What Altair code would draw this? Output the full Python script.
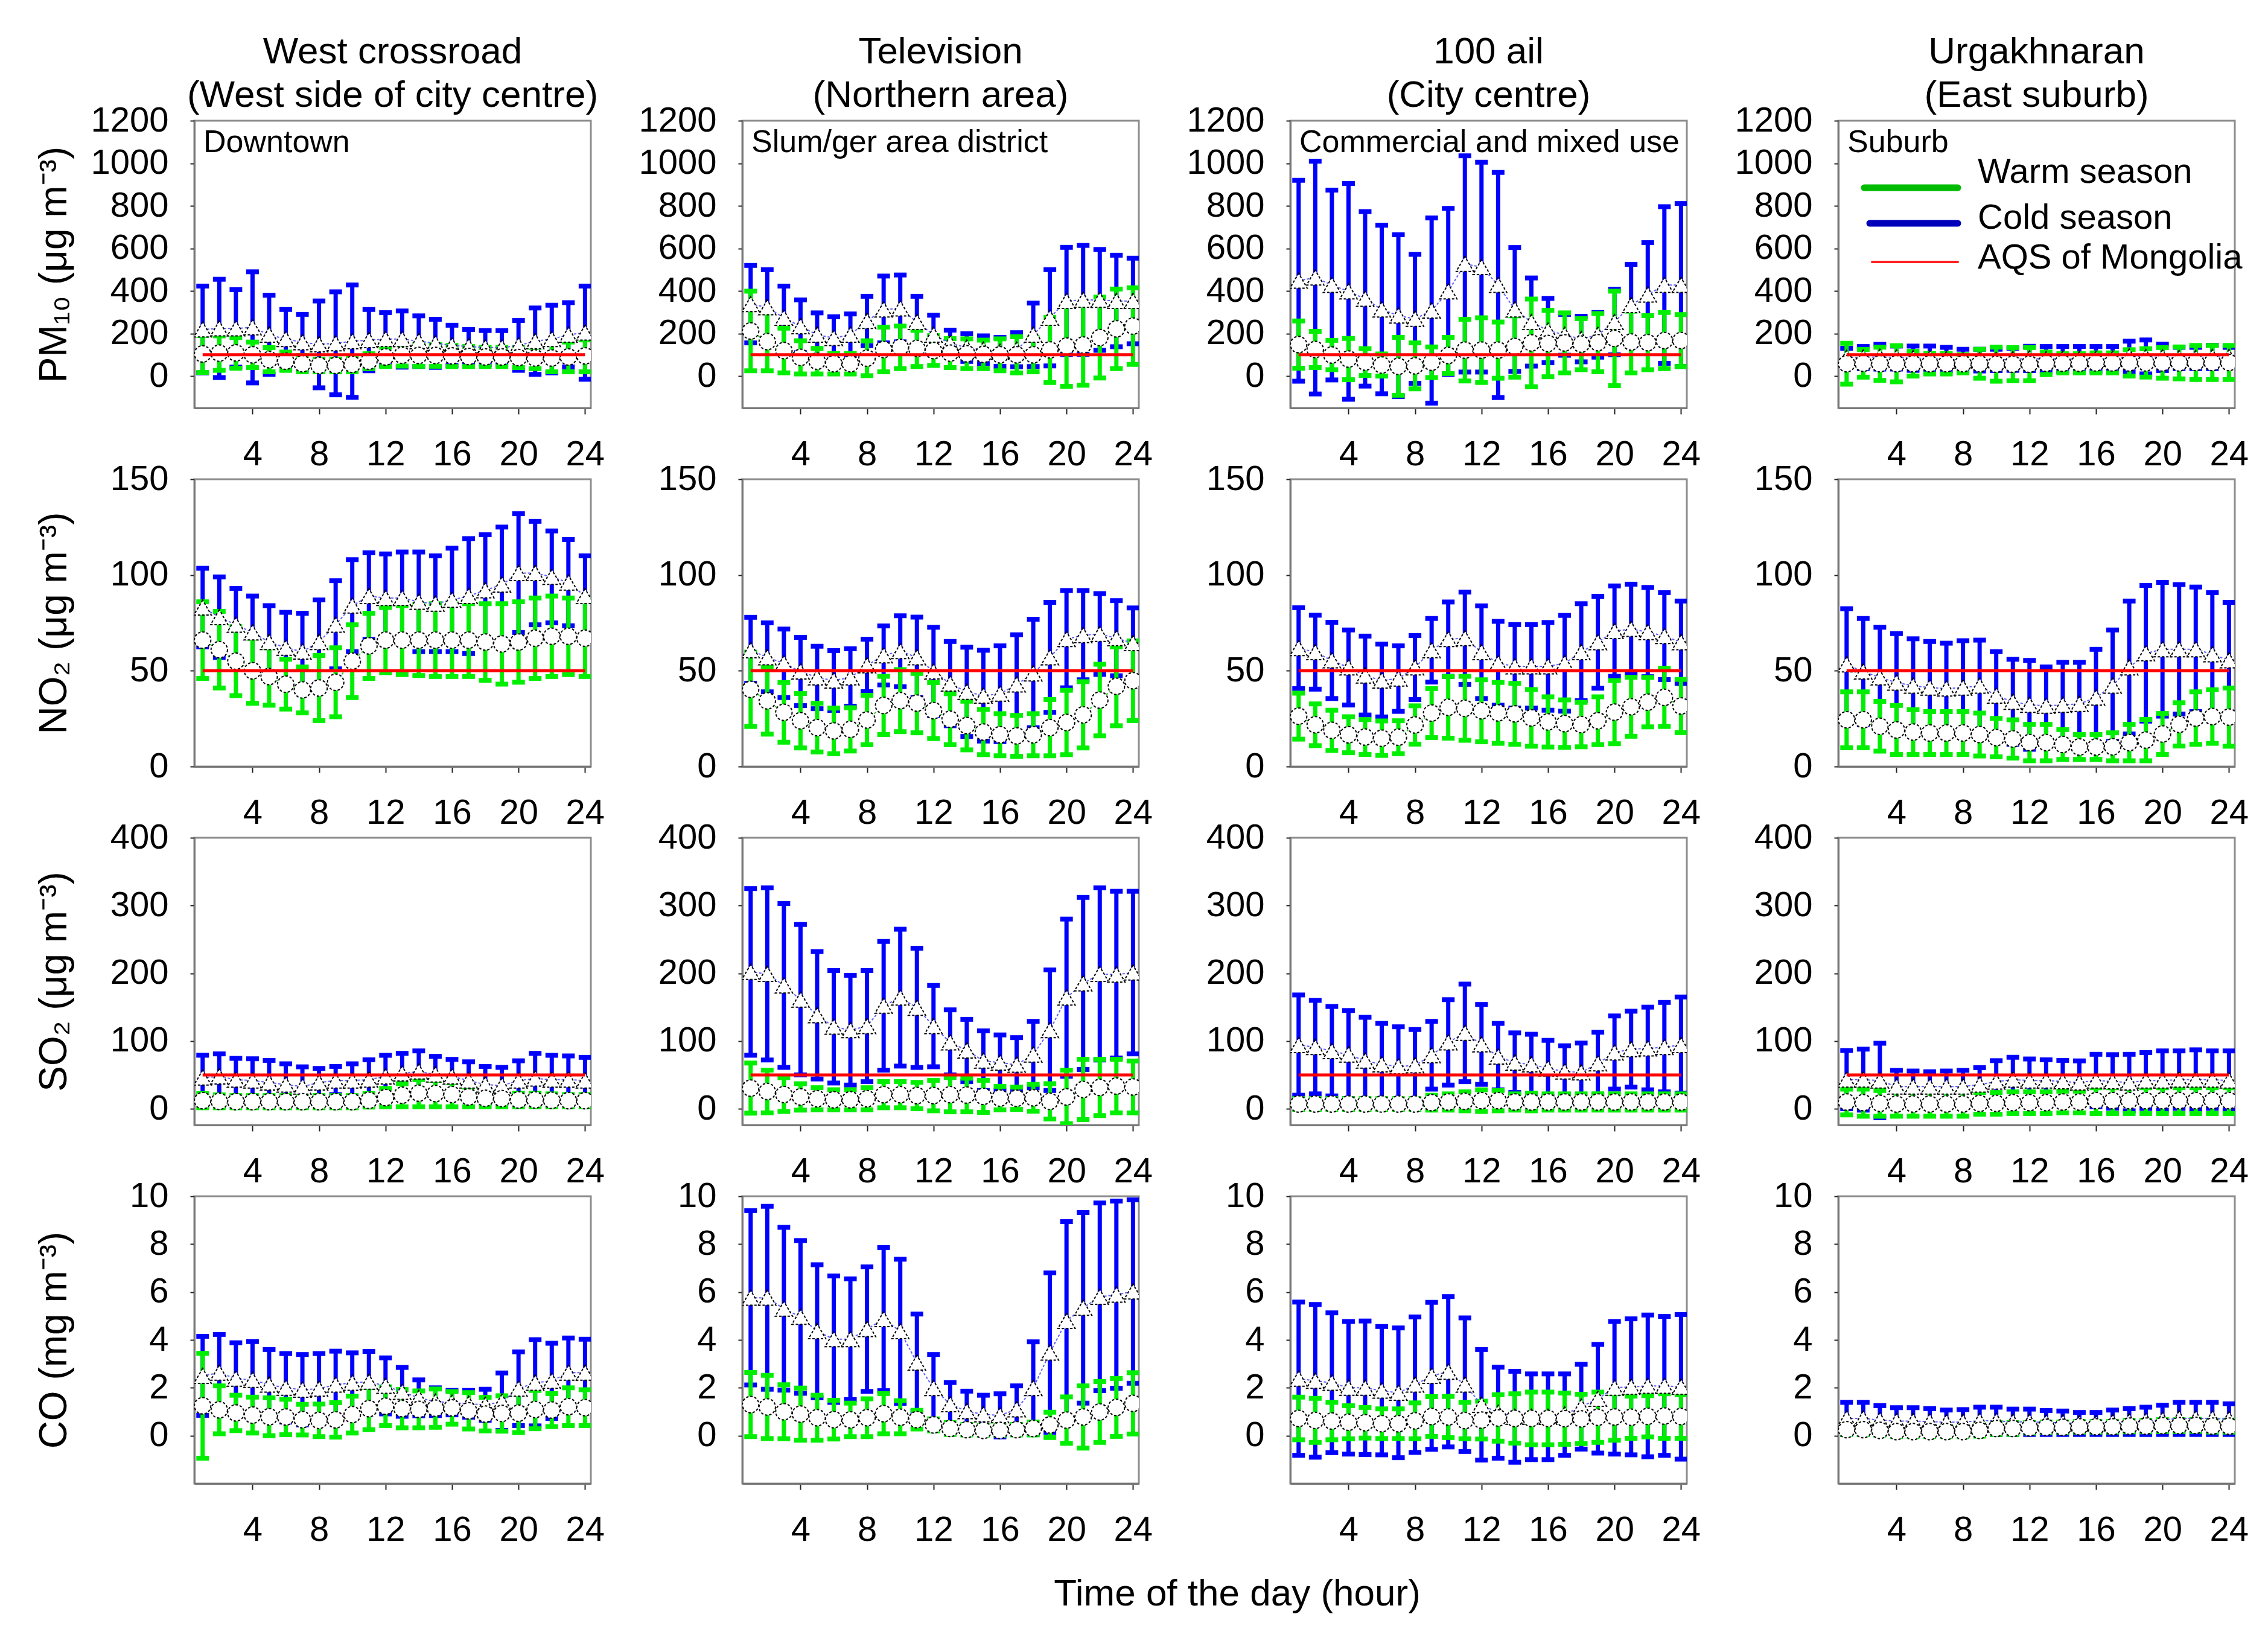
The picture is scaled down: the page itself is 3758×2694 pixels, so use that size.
import altair as alt
import pandas as pd

FONT = "Liberation Sans"
HOURS = list(range(1, 25))
X_TICKS = [4, 8, 12, 16, 20, 24]

STATION_TITLES = [
    ["West crossroad", "(West side of city centre)"],
    ["Television", "(Northern area)"],
    ["100 ail", "(City centre)"],
    ["Urgakhnaran", "(East suburb)"],
]
STATION_LABELS = ["Downtown", "Slum/ger area district", "Commercial and mixed use", "Suburb"]
POLLUTANTS = ["PM10", "NO2", "SO2", "CO"]
Y_TITLES = ["PM\u2081\u2080 (\u03bcg m\u207b\u00b3)", "NO\u2082 (\u03bcg m\u207b\u00b3)",
            "SO\u2082 (\u03bcg m\u207b\u00b3)", "CO (mg m\u207b\u00b3)"]
Y_DOMAINS = [[-150, 1200], [0, 150], [-24, 400], [-2, 10]]
Y_TICKS = [[0, 200, 400, 600, 800, 1000, 1200], [0, 50, 100, 150],
           [0, 100, 200, 300, 400], [0, 2, 4, 6, 8, 10]]
AQS_LIMITS = [100, 50, 50, None]
LEGEND_LABELS = ["Warm season", "Cold season", "AQS of Mongolia"]
X_TITLE = "Time of the day (hour)"

# ---------------- PM10 ----------------
PM10_WEST_COLD_MEAN = [219, 224, 224, 229, 194, 174, 159, 149, 154, 164, 169, 174, 174, 164, 154, 144, 139, 134, 134, 144, 164, 174, 194, 204]
PM10_WEST_COLD_SD = [204, 231, 182, 261, 186, 139, 131, 204, 242, 264, 144, 124, 132, 119, 113, 95, 80, 80, 80, 117, 156, 159, 151, 219]
PM10_WEST_WARM_MEAN = [104, 108, 109, 100, 77, 70, 58, 50, 50, 55, 70, 90, 98, 97, 97, 95, 92, 90, 90, 87, 85, 85, 90, 95]
PM10_WEST_WARM_SD = [87, 81, 72, 60, 57, 43, 38, 30, 30, 35, 35, 45, 51, 51, 51, 50, 47, 45, 45, 47, 50, 65, 70, 75]

PM10_TV_COLD_MEAN = [338, 323, 274, 234, 194, 179, 194, 259, 313, 318, 254, 194, 154, 134, 124, 114, 124, 194, 274, 353, 358, 358, 353, 353]
PM10_TV_COLD_SD = [182, 177, 149, 124, 103, 100, 98, 116, 157, 157, 121, 92, 62, 65, 65, 68, 80, 149, 226, 252, 256, 237, 215, 201]
PM10_TV_WARM_MEAN = [212, 162, 120, 88, 70, 58, 58, 84, 125, 135, 130, 120, 108, 105, 102, 100, 100, 100, 123, 141, 146, 181, 222, 235]
PM10_TV_WARM_SD = [187, 137, 105, 78, 60, 48, 48, 82, 105, 100, 85, 70, 68, 70, 67, 75, 85, 80, 153, 189, 189, 190, 187, 180]

PM10_AIL_COLD_MEAN = [448, 463, 428, 398, 363, 313, 284, 269, 308, 398, 527, 512, 428, 313, 254, 214, 194, 174, 194, 254, 333, 383, 428, 428]
PM10_AIL_COLD_SD = [472, 547, 446, 507, 410, 396, 380, 303, 435, 390, 508, 493, 529, 291, 207, 151, 96, 107, 105, 154, 192, 244, 368, 383]
PM10_AIL_WARM_MEAN = [148, 125, 99, 80, 66, 52, 46, 48, 65, 97, 122, 122, 122, 139, 156, 153, 156, 150, 157, 177, 160, 157, 167, 167]
PM10_AIL_WARM_SD = [111, 85, 69, 97, 63, 52, 136, 108, 72, 85, 145, 152, 132, 144, 206, 156, 141, 120, 137, 222, 145, 127, 132, 122]

PM10_SUB_COLD_MEAN = [86, 87, 91, 87, 84, 83, 80, 73, 75, 76, 79, 83, 80, 81, 80, 81, 81, 92, 90, 88, 85, 85, 90, 90]
PM10_SUB_COLD_SD = [45, 52, 58, 54, 57, 58, 55, 53, 51, 50, 52, 57, 59, 58, 59, 58, 58, 72, 80, 62, 50, 50, 55, 45]
PM10_SUB_WARM_MEAN = [58, 60, 58, 58, 58, 58, 58, 58, 58, 56, 56, 56, 60, 60, 60, 62, 62, 62, 62, 62, 62, 64, 64, 64]
PM10_SUB_WARM_SD = [96, 65, 78, 85, 58, 48, 48, 43, 68, 80, 78, 78, 53, 45, 45, 47, 47, 62, 67, 72, 75, 80, 80, 80]

# ---------------- NO2 ----------------
NO2_WEST_COLD_MEAN = [83, 78, 74, 70, 65, 62, 60, 65, 74, 84, 89, 88, 88, 86, 85, 87, 89, 92, 95, 101, 101, 99, 96, 89]
NO2_WEST_COLD_SD = [20.5, 21, 19, 19, 19, 18.5, 20, 22, 23, 24, 22.6, 23, 24, 26, 25, 27, 30, 29, 30, 31, 27, 24, 22.5, 21]
NO2_WEST_WARM_MEAN = [66, 61, 55, 50, 47, 43, 40, 41, 44, 55, 63, 66, 66, 66, 66, 66, 66, 65, 64, 65, 67, 68, 68, 67]
NO2_WEST_WARM_SD = [20, 20, 18, 17, 15, 13, 12, 17, 18, 19, 17, 17, 18, 18.5, 19, 19, 19, 20, 21, 21, 21, 21, 20, 20]

NO2_TV_COLD_MEAN = [60.7, 57, 53.9, 49.6, 46.5, 44.9, 46.5, 52.8, 58, 60.2, 57, 49.6, 43.3, 39, 37, 38, 42.8, 48.6, 57, 66.5, 68.6, 69.2, 67, 64.4]
NO2_TV_COLD_SD = [17.2, 18, 17.9, 17.8, 16.3, 15.6, 15, 13.7, 15.4, 18.5, 21, 23.1, 22, 23.3, 23.7, 25, 26, 28.3, 28.7, 25.4, 23.3, 21.1, 19.6, 18.4]
NO2_TV_WARM_MEAN = [40.3, 34.3, 28.3, 23.9, 20.3, 18.6, 19.4, 24.3, 31.9, 34.4, 33.1, 29.2, 24.7, 21.4, 18, 16.6, 16, 16.6, 20.3, 23, 27, 34.7, 41.9, 44.8]
NO2_TV_WARM_SD = [19.4, 17.4, 15.6, 14.2, 12.7, 11.9, 11.3, 12.9, 15.2, 16.2, 15.5, 14.6, 13.3, 12.7, 11.8, 11, 10.7, 11, 14.7, 16.8, 17.3, 18.7, 20.6, 20.8]

NO2_AIL_COLD_MEAN = [61.8, 59.7, 55.4, 51.7, 47.5, 44.9, 45.9, 51.7, 60.7, 66.5, 67, 59.7, 53.9, 52.3, 52.3, 52.3, 53.9, 59.7, 64.9, 70.7, 71.8, 70.2, 68.1, 64.9]
NO2_AIL_COLD_SD = [21.1, 19.3, 19.9, 19.6, 20.6, 19, 17.1, 16.7, 16.6, 19.4, 24.1, 24.2, 21.9, 21.8, 21.8, 22.9, 25, 25.3, 24, 23.6, 23.4, 23.3, 22.7, 21.5]
NO2_AIL_WARM_MEAN = [26.3, 21.8, 18.9, 16.6, 15.4, 14.8, 15.3, 21.7, 27.9, 30.9, 30.4, 29.1, 28, 27.5, 25.4, 23.3, 22.4, 21.9, 23.9, 28.4, 31.2, 33.6, 36.1, 31.6]
NO2_AIL_WARM_SD = [12, 10.9, 10.5, 9.4, 9.1, 9, 8.6, 10, 12.8, 16.1, 16.7, 16.2, 15.9, 15.9, 14.8, 13.1, 12.4, 11.6, 12.5, 16.5, 15.4, 12.9, 15.2, 13.9]

NO2_SUB_COLD_MEAN = [53.3, 49.6, 46.5, 43.8, 42.2, 41.2, 40.7, 41.2, 42.2, 37, 33.8, 32.2, 31.7, 32.2, 32.7, 36, 42.2, 51.7, 59.1, 61.2, 61.2, 61.2, 58.6, 55.4]
NO2_SUB_COLD_SD = [29.1, 27.7, 26.2, 25.6, 24.5, 24.1, 23.7, 24.5, 23.8, 23, 22.2, 23.2, 20.3, 22.2, 21.7, 25.2, 29.1, 34.7, 35.4, 34.9, 33.8, 32.5, 32.2, 30.3]
NO2_SUB_WARM_MEAN = [24.4, 24.4, 21, 19.1, 18, 17.5, 17.5, 17.5, 16.7, 15.1, 14.4, 12.5, 12.5, 11.5, 10.2, 10.2, 10.3, 12.5, 13.8, 17, 22, 25.3, 26.1, 25.8]
NO2_SUB_WARM_SD = [14.6, 14.6, 13, 12.8, 11.7, 11.2, 11.2, 11.2, 11.2, 10, 10, 9.5, 9.5, 7.8, 6.5, 6.5, 7.3, 9.5, 10.8, 10.7, 11.3, 13.7, 14, 15.2]

# ---------------- SO2 ----------------
SO2_WEST_COLD_MEAN = [46, 47.6, 43, 41.7, 38.7, 35.7, 32.7, 38.7, 41.7, 41.7, 43, 47.6, 52, 55, 50.6, 47.6, 41.7, 35.7, 34.2, 41.7, 44.6, 43, 43, 41.7]
SO2_WEST_COLD_SD = [33, 33.4, 31.4, 32.1, 32.7, 30.7, 29.2, 20.8, 20.8, 24.7, 29.3, 31.3, 29.8, 30.4, 26.8, 25.3, 27.6, 26.8, 26.8, 29.1, 37.2, 35.9, 35, 34.2]
SO2_WEST_WARM_MEAN = [12, 11, 10.5, 10.5, 10.5, 10.5, 10.5, 10.5, 10.5, 10.5, 12.5, 16.5, 20, 23, 22.5, 21, 17.5, 15.5, 15, 13, 13, 12.5, 12, 12]
SO2_WEST_WARM_SD = [10.5, 9.5, 9, 9, 9, 9, 9, 9, 9, 9, 10, 13.5, 17, 20, 19.5, 18, 14.5, 12.5, 12, 10, 10, 9.5, 9, 9]

SO2_TV_COLD_MEAN = [202, 199, 182, 161, 138, 121, 116, 122, 152, 164, 149, 122, 98, 86, 71, 68, 65, 80, 116, 164, 185, 199, 198, 201]
SO2_TV_COLD_SD = [123, 127, 121, 111, 94, 83, 81, 82, 95, 101, 88, 60, 48, 46, 44, 41, 40, 49, 89, 116, 127, 127, 123, 120]
SO2_TV_WARM_MEAN = [30.5, 25.5, 21, 17.5, 14.8, 13.3, 13.3, 14.8, 20.8, 20.8, 19.5, 19.5, 20.8, 20.3, 18.3, 15.8, 15.5, 16.2, 11, 17.5, 28.5, 31.5, 33.5, 32.2]
SO2_TV_WARM_SD = [37, 31.5, 25, 19.5, 16.3, 14.8, 14.8, 16.3, 19.3, 19.3, 19.5, 22.5, 25.3, 24.8, 23.7, 17.3, 16.5, 19.8, 26, 39.5, 44.5, 41.5, 39.5, 38.3]

SO2_AIL_COLD_MEAN = [94, 91, 85, 80, 71, 65.5, 62.5, 64, 79, 98, 112, 95, 77, 68, 65.5, 59.5, 55, 53.6, 67, 83, 88, 89, 91, 94]
SO2_AIL_COLD_SD = [74, 69, 66, 65, 64, 60.5, 58.5, 53, 50, 63, 72, 59, 49, 44, 44.5, 41.5, 38, 43.4, 46, 54, 56, 61, 66, 71]
SO2_AIL_WARM_MEAN = [7, 7, 7, 7, 7, 7, 7, 7, 9, 10, 11, 12, 12, 10, 10, 10, 10, 10, 10, 10, 10, 10, 10, 10]
SO2_AIL_WARM_SD = [8, 8, 8, 8, 8, 8, 8, 8, 11, 12, 14, 16, 15, 12, 13, 12, 12, 12, 12, 12, 12, 12, 12, 12]

SO2_SUB_COLD_MEAN = [43, 43, 41.7, 32.7, 32.7, 32.7, 32.7, 32.7, 35.7, 40, 43, 41.7, 41.7, 40.4, 38.7, 41.7, 40.4, 38.7, 41.7, 41.7, 43, 43, 43, 41.7]
SO2_SUB_COLD_SD = [43, 45, 55, 24, 23, 22, 23, 24, 25, 31, 33, 31.8, 30.6, 31, 32, 38.7, 39.5, 41.7, 41.3, 43.7, 42.4, 44, 42.4, 43.7]
SO2_SUB_WARM_MEAN = [10, 9, 8, 7, 7, 7, 7, 7, 8, 8, 9, 9, 9, 10, 10, 12, 12, 12, 12, 12, 12, 12, 12, 12]
SO2_SUB_WARM_SD = [19, 20, 19, 18, 18, 18, 18, 18, 16, 16, 16, 16, 16, 16, 16, 19, 19, 19, 19, 19, 19, 19, 19, 19]

# ---------------- CO ----------------
CO_WEST_COLD_MEAN = [2.5, 2.63, 2.38, 2.33, 2.13, 2, 1.92, 1.96, 2.13, 2.21, 2.25, 2.08, 1.83, 1.58, 1.42, 1.38, 1.33, 1.29, 1.42, 1.96, 2.21, 2.29, 2.63, 2.63]
CO_WEST_COLD_SD = [1.65, 1.6, 1.5, 1.6, 1.47, 1.43, 1.47, 1.47, 1.4, 1.25, 1.27, 1.17, 1.02, 0.75, 0.58, 0.51, 0.56, 0.65, 1.2, 1.54, 1.8, 1.57, 1.45, 1.4]
CO_WEST_WARM_MEAN = [1.25, 1.08, 0.95, 0.86, 0.79, 0.78, 0.67, 0.64, 0.66, 0.88, 1.13, 1.23, 1.13, 1.1, 1.15, 1.16, 1.04, 0.9, 0.93, 0.94, 1.09, 1.07, 1.21, 1.17]
CO_WEST_WARM_SD = [2.19, 1.0, 0.74, 0.75, 0.79, 0.74, 0.64, 0.68, 0.72, 0.77, 0.88, 0.81, 0.8, 0.77, 0.8, 0.68, 0.76, 0.7, 0.74, 0.81, 0.8, 0.69, 0.79, 0.75]

CO_TV_COLD_MEAN = [5.76, 5.76, 5.3, 4.96, 4.36, 4.03, 4.03, 4.45, 4.87, 4.36, 3.05, 1.99, 1.31, 1.02, 0.89, 0.85, 1.1, 1.99, 3.47, 4.79, 5.34, 5.8, 5.89, 6.02]
CO_TV_COLD_SD = [3.64, 3.82, 3.4, 3.19, 2.78, 2.64, 2.52, 2.6, 2.99, 3.01, 2.03, 1.4, 0.91, 0.84, 0.8, 0.9, 0.98, 1.93, 3.33, 4.15, 3.98, 3.92, 3.91, 3.83]
CO_TV_WARM_MEAN = [1.3, 1.2, 1.0, 0.9, 0.75, 0.67, 0.66, 0.75, 0.92, 0.77, 0.67, 0.45, 0.3, 0.25, 0.22, 0.22, 0.25, 0.3, 0.45, 0.65, 0.78, 0.99, 1.18, 1.35]
CO_TV_WARM_SD = [1.34, 1.32, 1.13, 1.09, 0.94, 0.81, 0.7, 0.79, 0.84, 0.69, 0.39, 0.25, 0.25, 0.22, 0.2, 0.2, 0.22, 0.27, 0.53, 0.97, 1.3, 1.27, 1.21, 1.28]

CO_AIL_COLD_MEAN = [2.38, 2.29, 2.21, 2.0, 2.0, 1.88, 1.79, 2.13, 2.5, 2.67, 2.13, 1.29, 0.96, 0.79, 0.79, 0.79, 0.88, 1.21, 1.54, 2.0, 2.04, 2.08, 2.08, 2.04]
CO_AIL_COLD_SD = [3.2, 3.19, 2.92, 2.77, 2.79, 2.68, 2.71, 2.83, 3.07, 3.14, 2.79, 2.31, 1.9, 1.9, 1.79, 1.79, 1.7, 1.77, 2.27, 2.77, 2.84, 2.96, 2.9, 3.02]
CO_AIL_WARM_MEAN = [0.72, 0.64, 0.61, 0.56, 0.54, 0.5, 0.5, 0.62, 0.8, 0.78, 0.63, 0.65, 0.74, 0.72, 0.72, 0.72, 0.71, 0.7, 0.77, 0.78, 0.77, 0.81, 0.82, 0.8]
CO_AIL_WARM_SD = [0.89, 0.92, 0.78, 0.69, 0.64, 0.62, 0.62, 0.75, 0.83, 0.86, 0.76, 0.79, 0.97, 1.03, 1.1, 1.1, 1.07, 1.03, 1.05, 0.97, 0.88, 0.86, 0.93, 0.91]

CO_SUB_COLD_MEAN = [0.72, 0.72, 0.65, 0.61, 0.61, 0.59, 0.56, 0.57, 0.62, 0.62, 0.58, 0.58, 0.55, 0.54, 0.51, 0.51, 0.56, 0.59, 0.62, 0.66, 0.72, 0.72, 0.72, 0.69]
CO_SUB_COLD_SD = [0.67, 0.67, 0.6, 0.56, 0.56, 0.54, 0.51, 0.52, 0.57, 0.57, 0.53, 0.53, 0.5, 0.49, 0.46, 0.46, 0.51, 0.54, 0.57, 0.61, 0.67, 0.67, 0.67, 0.64]
CO_SUB_WARM_MEAN = [0.25, 0.25, 0.22, 0.17, 0.17, 0.17, 0.17, 0.17, 0.22, 0.3, 0.3, 0.33, 0.35, 0.35, 0.37, 0.37, 0.37, 0.4, 0.4, 0.42, 0.42, 0.43, 0.4, 0.4]
CO_SUB_WARM_SD = [0.21, 0.21, 0.2, 0.21, 0.21, 0.21, 0.21, 0.21, 0.24, 0.25, 0.25, 0.22, 0.22, 0.22, 0.22, 0.22, 0.22, 0.24, 0.24, 0.25, 0.25, 0.25, 0.25, 0.25]

DATA = [
    [(PM10_WEST_COLD_MEAN, PM10_WEST_COLD_SD, PM10_WEST_WARM_MEAN, PM10_WEST_WARM_SD),
     (PM10_TV_COLD_MEAN, PM10_TV_COLD_SD, PM10_TV_WARM_MEAN, PM10_TV_WARM_SD),
     (PM10_AIL_COLD_MEAN, PM10_AIL_COLD_SD, PM10_AIL_WARM_MEAN, PM10_AIL_WARM_SD),
     (PM10_SUB_COLD_MEAN, PM10_SUB_COLD_SD, PM10_SUB_WARM_MEAN, PM10_SUB_WARM_SD)],
    [(NO2_WEST_COLD_MEAN, NO2_WEST_COLD_SD, NO2_WEST_WARM_MEAN, NO2_WEST_WARM_SD),
     (NO2_TV_COLD_MEAN, NO2_TV_COLD_SD, NO2_TV_WARM_MEAN, NO2_TV_WARM_SD),
     (NO2_AIL_COLD_MEAN, NO2_AIL_COLD_SD, NO2_AIL_WARM_MEAN, NO2_AIL_WARM_SD),
     (NO2_SUB_COLD_MEAN, NO2_SUB_COLD_SD, NO2_SUB_WARM_MEAN, NO2_SUB_WARM_SD)],
    [(SO2_WEST_COLD_MEAN, SO2_WEST_COLD_SD, SO2_WEST_WARM_MEAN, SO2_WEST_WARM_SD),
     (SO2_TV_COLD_MEAN, SO2_TV_COLD_SD, SO2_TV_WARM_MEAN, SO2_TV_WARM_SD),
     (SO2_AIL_COLD_MEAN, SO2_AIL_COLD_SD, SO2_AIL_WARM_MEAN, SO2_AIL_WARM_SD),
     (SO2_SUB_COLD_MEAN, SO2_SUB_COLD_SD, SO2_SUB_WARM_MEAN, SO2_SUB_WARM_SD)],
    [(CO_WEST_COLD_MEAN, CO_WEST_COLD_SD, CO_WEST_WARM_MEAN, CO_WEST_WARM_SD),
     (CO_TV_COLD_MEAN, CO_TV_COLD_SD, CO_TV_WARM_MEAN, CO_TV_WARM_SD),
     (CO_AIL_COLD_MEAN, CO_AIL_COLD_SD, CO_AIL_WARM_MEAN, CO_AIL_WARM_SD),
     (CO_SUB_COLD_MEAN, CO_SUB_COLD_SD, CO_SUB_WARM_MEAN, CO_SUB_WARM_SD)],
]

# ---------------- styling ----------------
W, H = 657, 476
BLUE = "#0000ff"
GREEN = "#00ee00"
RED = "#ff0000"


def build_frame(cm, cs, wm, ws):
    rows = []
    for h, m, s in zip(HOURS, cm, cs):
        rows.append({"hour": h, "season": "Cold", "mean": m, "lo": m - s, "hi": m + s})
    for h, m, s in zip(HOURS, wm, ws):
        rows.append({"hour": h, "season": "Warm", "mean": m, "lo": m - s, "hi": m + s})
    return pd.DataFrame(rows)


def panel(r, c):
    cm, cs, wm, ws = DATA[r][c]
    df = build_frame(cm, cs, wm, ws)
    xscale = alt.Scale(domain=[0.5, 24.35], nice=False, zero=False)
    yscale = alt.Scale(domain=Y_DOMAINS[r], nice=False, zero=False)
    xaxis = alt.Axis(values=X_TICKS, title=None, tickSize=10, labelPadding=38,
                     labelFlush=False, labelOverlap=False, format="d")
    yaxis = alt.Axis(values=Y_TICKS[r], title=Y_TITLES[r] if c == 0 else None,
                     tickSize=7, labelPadding=36, labelOverlap=False, format="d",
                     minExtent=180, maxExtent=180, titlePadding=20)

    def X(f):
        return alt.X(f, type="quantitative", scale=xscale, axis=xaxis)

    def Y(f):
        return alt.Y(f, type="quantitative", scale=yscale, axis=yaxis)

    base = alt.Chart(df)
    cold = base.transform_filter(alt.datum.season == "Cold")
    warm = base.transform_filter(alt.datum.season == "Warm")

    layers = []
    for sub, col in ((cold, BLUE), (warm, GREEN)):
        layers.append(sub.mark_rule(color=col, strokeWidth=7, clip=True)
                      .encode(x=X("hour"), y=Y("lo"), y2="hi"))
        layers.append(sub.mark_tick(color=col, orient="horizontal", size=21, thickness=8,
                                    opacity=1, clip=True)
                      .encode(x=X("hour"), y=Y("hi")))
        layers.append(sub.mark_tick(color=col, orient="horizontal", size=21, thickness=8,
                                    opacity=1, clip=True)
                      .encode(x=X("hour"), y=Y("lo")))
    layers.append(cold.mark_line(color="#6060ff", strokeWidth=2, strokeDash=[4, 3], clip=True)
                  .encode(x=X("hour"), y=Y("mean")))
    layers.append(warm.mark_line(color="#30c030", strokeWidth=2, strokeDash=[4, 3], clip=True)
                  .encode(x=X("hour"), y=Y("mean")))
    layers.append(cold.mark_point(shape="triangle-up", filled=True, fill="white", stroke="black",
                                  strokeWidth=2, strokeDash=[4, 3], size=820, opacity=1, clip=True)
                  .encode(x=X("hour"), y=Y("mean")))
    layers.append(warm.mark_point(shape="circle", filled=True, fill="white", stroke="black",
                                  strokeWidth=2, strokeDash=[4, 3], size=740, opacity=1, clip=True)
                  .encode(x=X("hour"), y=Y("mean")))

    if AQS_LIMITS[r] is not None:
        aqs_df = pd.DataFrame({"x1": [HOURS[0]], "x2": [HOURS[-1]], "aqs": [AQS_LIMITS[r]]})
        layers.append(alt.Chart(aqs_df).mark_rule(color=RED, strokeWidth=5)
                      .encode(x=X("x1"), x2="x2", y=Y("aqs")))

    if r == 0:
        lab_df = pd.DataFrame({"label": [STATION_LABELS[c]]})
        layers.append(alt.Chart(lab_df).mark_text(align="left", baseline="middle", font=FONT,
                                                  fontSize=52, color="black")
                      .encode(x=alt.value(15), y=alt.value(36), text="label:N"))

    if r == 0 and c == 3:
        leg_styles = [("#00bb00", 11, 43, 111), ("#0000bb", 11, 52, 170), ("#ff2020", 4, 56, 234)]
        text_y = [86, 162, 228]
        for i, (colr, sw, x0, yy) in enumerate(leg_styles):
            ldf = pd.DataFrame({"label": [LEGEND_LABELS[i]]})
            layers.append(alt.Chart(ldf).mark_rule(color=colr, strokeWidth=sw, strokeCap="round")
                          .encode(x=alt.value(x0), x2=alt.value(198), y=alt.value(yy)))
            layers.append(alt.Chart(ldf).mark_text(align="left", baseline="middle", font=FONT,
                                                   fontSize=58, color="black")
                          .encode(x=alt.value(231), y=alt.value(text_y[i]), text="label:N"))

    if r == 3 and c == 1:
        tdf = pd.DataFrame({"label": [X_TITLE]})
        layers.append(alt.Chart(tdf).mark_text(align="center", baseline="middle", font=FONT,
                                               fontSize=62, color="black")
                      .encode(x=alt.value(820), y=alt.value(659), text="label:N"))

    ch = alt.layer(*layers).properties(width=W, height=H)
    if r == 0:
        ch = ch.properties(title=alt.TitleParams(
            text=STATION_TITLES[c], font=FONT, fontSize=62, fontWeight="normal",
            color="black", anchor="middle", frame="group", offset=12, dy=31, lineHeight=72))
    return ch


panels = [panel(r, c) for r in range(4) for c in range(4)]

chart = (
    alt.concat(*panels, columns=4, spacing={"row": 118, "column": 251}, bounds="flush")
    .configure_view(stroke="#8c8c8c", strokeWidth=3)
    .configure_axis(labelFont=FONT, labelFontSize=58, labelColor="black",
                    titleFont=FONT, titleFontSize=64, titleFontWeight="normal",
                    titleColor="black", tickColor="#222222", tickWidth=2,
                    domainColor="#777777", domainWidth=3, grid=False)
    .properties(padding={"left": 48, "top": 45, "right": 5, "bottom": 5},
                background="white")
)

chart.save("out.html", embed_options={"renderer": "svg", "actions": False})
